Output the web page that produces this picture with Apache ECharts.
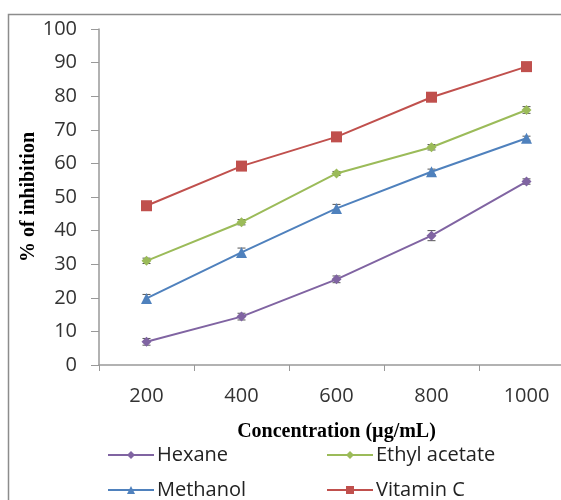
<!DOCTYPE html>
<html><head><meta charset="utf-8">
<script src="https://cdn.jsdelivr.net/npm/echarts@6/dist/echarts.min.js"></script>
<style>html,body{margin:0;padding:0;background:#fff}#c{width:561px;height:500px}</style>
</head><body><div id="c"></div>
<script>
const categories = ['200', '400', '600', '800', '1000'];
const hexane = [6.9, 14.4, 25.5, 38.5, 54.6];
const ethylAcetate = [31.0, 42.5, 57.0, 64.8, 75.9];
const methanol = [19.8, 33.5, 46.6, 57.5, 67.5];
const vitaminC = [47.4, 59.2, 67.9, 79.7, 88.8];
const hexaneErr = [1.0, 1.0, 1.0, 1.5, 0.8];
const ethylErr = [0.8, 0.8, 0.6, 0.8, 1.0];
const methanolErr = [1.2, 1.3, 1.2, 0.8, 0.6];
const vitaminCErr = [0.8, 0.8, 0.8, 0.8, 0.6];
const yTicks = [0, 10, 20, 30, 40, 50, 60, 70, 80, 90, 100];

const colors = {hex:'#8064A2', eth:'#9BBB59', met:'#4F81BD', vit:'#C0504D'};

function errData(vals, errs){ return vals.map((v,i)=>[i, v-errs[i], v+errs[i]]); }
function errSeries(vals, errs){
  return {
    type:'custom', silent:true, z:2,
    data: errData(vals, errs),
    renderItem: function(params, api){
      const lo = api.coord([api.value(0), api.value(1)]);
      const hi = api.coord([api.value(0), api.value(2)]);
      const w = 4;
      const st = {stroke:'#555', lineWidth:1};
      return {type:'group', children:[
        {type:'line', shape:{x1:lo[0],y1:lo[1],x2:hi[0],y2:hi[1]}, style:st},
        {type:'line', shape:{x1:lo[0]-w,y1:lo[1],x2:lo[0]+w,y2:lo[1]}, style:st},
        {type:'line', shape:{x1:hi[0]-w,y1:hi[1],x2:hi[0]+w,y2:hi[1]}, style:st}
      ]};
    }
  };
}
function lineSeries(name, vals, color, symbol, size){
  return {name:name, type:'line', data:vals, symbol:symbol, symbolSize:size,
    lineStyle:{color:color, width:2}, itemStyle:{color:color}, z:3};
}
function leg(name, left, top){
  return {data:[name], left:left, top:top, itemWidth:46, itemHeight:10, itemGap:0,
    textStyle:{fontFamily:'Open Sans', fontSize:20, color:'#222', padding:[0,0,0,-2]}};
}

const chart = echarts.init(document.getElementById('c'), null, {renderer:'canvas'});
chart.setOption({
  animation:false,
  graphic:[{type:'rect', shape:{x:8.5, y:14.5, width:700, height:700}, style:{fill:null, stroke:'#8c8c8c', lineWidth:1.5}, silent:true}],
  grid:{left:99, top:29, width:475, height:336, outerBoundsMode:'none', containLabel:false},
  legend:[
    leg('Hexane', 102, 440),
    leg('Methanol', 102, 475),
    leg('Ethyl acetate', 321, 440),
    leg('Vitamin C', 321, 475)
  ],
  xAxis:{type:'category', data:categories, boundaryGap:true,
    name:'Concentration (µg/mL)', nameLocation:'middle', nameGap:57, nameMoveOverlap:false,
    nameTextStyle:{fontFamily:'Liberation Serif', fontWeight:'bold', fontSize:20, color:'#000'},
    axisLine:{lineStyle:{color:'#999', width:1.5}},
    axisTick:{show:true, length:6, lineStyle:{color:'#999'}},
    axisLabel:{fontFamily:'Open Sans', fontSize:20, color:'#333', margin:21},
    splitLine:{show:false}},
  yAxis:{type:'value', min:0, max:100, interval:10,
    name:'% of inhibition', nameLocation:'middle', nameGap:60, nameRotate:90, nameMoveOverlap:false,
    nameTextStyle:{fontFamily:'Liberation Serif', fontWeight:'bold', fontSize:20, color:'#000'},
    axisLine:{show:true, lineStyle:{color:'#999', width:1.5}},
    axisTick:{show:true, length:8, lineStyle:{color:'#999'}},
    axisLabel:{fontFamily:'Open Sans', fontSize:20, color:'#333', margin:22,
      formatter:function(v){ return yTicks.indexOf(v)>=0 ? String(v) : ''; }},
    splitLine:{show:false}},
  series:[
    lineSeries('Hexane', hexane, colors.hex, 'diamond', 10),
    lineSeries('Ethyl acetate', ethylAcetate, colors.eth, 'diamond', 10),
    lineSeries('Methanol', methanol, colors.met, 'triangle', 11),
    lineSeries('Vitamin C', vitaminC, colors.vit, 'rect', 11),
    errSeries(hexane, hexaneErr),
    errSeries(ethylAcetate, ethylErr),
    errSeries(methanol, methanolErr),
    errSeries(vitaminC, vitaminCErr)
  ]
});
</script></body></html>
